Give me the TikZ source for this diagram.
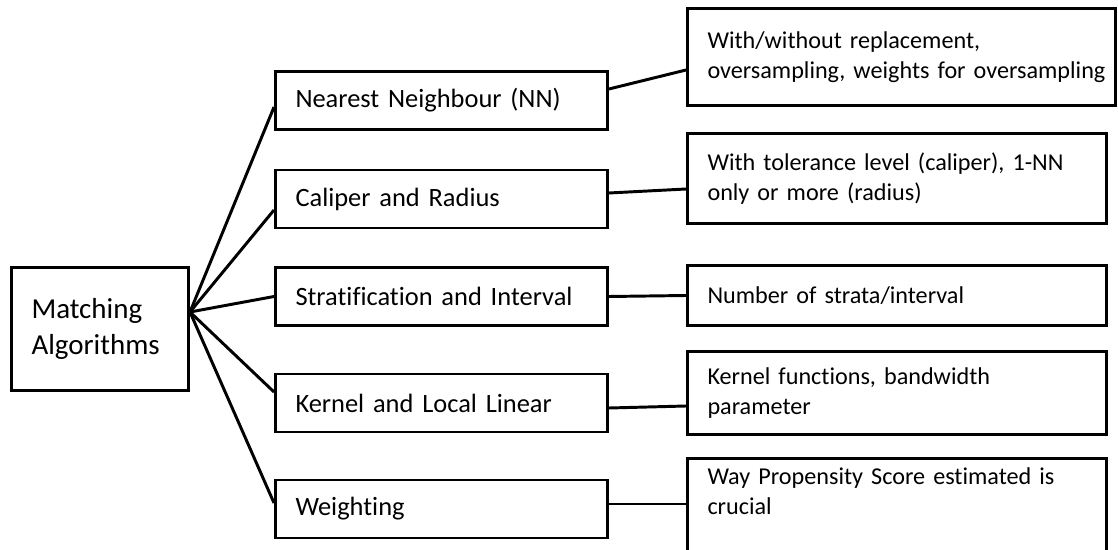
\documentclass[tikz,border=0pt]{standalone}
\usepackage{fontspec}
\setmainfont{Carlito}[Ligatures=NoCommon]
\usepackage{tikz}

\begin{document}
\begin{tikzpicture}[
    every node/.style={font=\fontsize{17.2}{21.3}\selectfont},
    box/.style={draw, line width=2.1pt, rectangle, inner xsep=0.5cm, align=left},
    root/.style={box, text width=3.425cm, minimum height=3.075cm, font=\fontsize{20.6}{25.6}\selectfont},
    method/.style={box, text width=7.3cm, minimum height=1.45cm, font=\fontsize{18.8}{23}\selectfont},
    detail/.style={box, text width=9.475cm},
    link/.style={line width=2.1pt}
]
    \useasboundingbox (0,0) rectangle (27.95,-13.75);
    \clip (0,0) rectangle (27.95,-13.75);

    % Root
    \node[root] (M) at (2.5, -8.225) {Matching\\Algorithms};
    \coordinate (hub) at ([yshift=0.425cm]M.east);

    % Methods
    \node[method] (nn) at (11.0375, -2.5125) {Nearest Neighbour (NN)};
    \node[method] (cal) at (11.0375, -4.975) {Caliper and Radius};
    \node[method] (strat) at (11.0375, -7.4125) {Stratification and Interval};
    \node[method] (kern) at (11.0375, -10.075) {Kernel and Local Linear};
    \node[method] (wgt) at (11.0375, -12.725) {Weighting};

    % Details
    \node[detail, text width=9.7cm, minimum height=2.425cm] (nnd) at (22.5375, -1.425) {With/without replacement,\\\mbox{oversampling, weights for oversampling}};
    \node[detail, minimum height=2.25cm] (cald) at (22.425, -4.4625) {With tolerance level (caliper), 1-NN\\only or more (radius)};
    \node[detail, minimum height=1.5cm] (stratd) at (22.425, -7.3875) {Number of strata/interval};
    \node[detail, minimum height=2.075cm] (kernd) at (22.425, -9.825) {Kernel functions, bandwidth\\parameter};
    \node[detail, anchor=north, inner ysep=0.22cm, text depth=3cm] (wgtd) at (22.425, -11.425) {Way Propensity Score estimated is\\crucial};

    % Fan out
    \draw[link] (hub) -- ([yshift=-0.1625cm]nn.west);
    \draw[link] (hub) -- ([yshift=-0.275cm]cal.west);
    \draw[link] (hub) -- (strat.west);
    \draw[link] (hub) -- ([yshift=0.275cm]kern.west);
    \draw[link] (hub) -- ([yshift=0.15cm]wgt.west);

    % Method to detail
    \draw[link] ([yshift=0.2875cm]nn.east) -- ([yshift=-0.325cm]nnd.west);
    \draw[link] ([yshift=0.15cm]cal.east) -- ([yshift=-0.2625cm]cald.west);
    \draw[link] (strat.east) -- (stratd.west);
    \draw[link] ([yshift=-0.125cm]kern.east) -- ([yshift=-0.325cm]kernd.west);
    \draw[link] ([yshift=0.125cm]wgt.east) -- ([yshift=-1.175cm]wgtd.north west);

\end{tikzpicture}
\end{document}
